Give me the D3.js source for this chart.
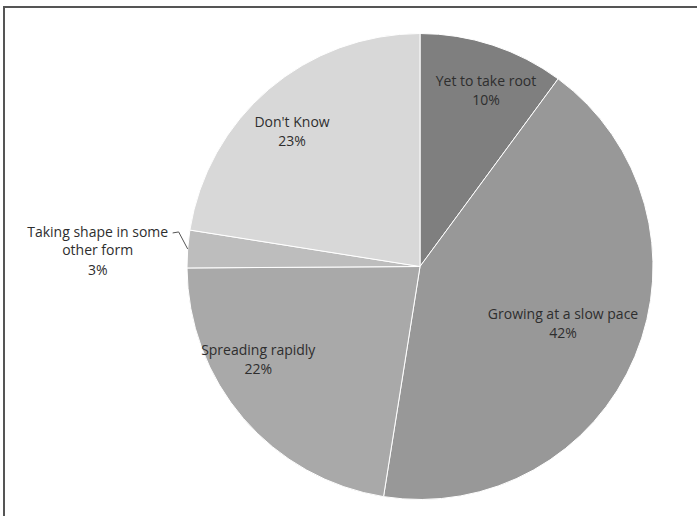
<!DOCTYPE html>
<html lang="en">
  <head>
    <meta charset="UTF-8" />
    <title>Pie</title>
    <style>
      body { margin: 0; background: #fff; }
      .lbl { font-family: "Open Sans", sans-serif; font-size: 14px; fill: #2e2e2e; }
    </style>
  </head>
  <body>
    <script src="https://d3js.org/d3.v7.min.js"></script>
    <script>
      const names = [
        "Yet to take root",
        "Growing at a slow pace",
        "Spreading rapidly",
        "Taking shape in some other form",
        "Don't Know",
      ];
      const values = [10.1, 42.4, 22.4, 2.6, 22.5];
      const colors = ["#7f7f7f", "#989898", "#a9a9a9", "#bdbdbd", "#d8d8d8"];

      const width = 697;
      const height = 516;
      const cx = 420;
      const cy = 266.5;
      const radius = 233;

      const svg = d3
        .select("body")
        .append("svg")
        .attr("width", width)
        .attr("height", height);

      // frame (cropped at the right and bottom)
      svg
        .append("rect")
        .attr("x", 4)
        .attr("y", 7)
        .attr("width", 800)
        .attr("height", 600)
        .attr("fill", "none")
        .attr("stroke", "#555")
        .attr("stroke-width", 2);

      const data = names.map((name, i) => ({ name, value: values[i], color: colors[i] }));

      const pie = d3.pie().sort(null).value((d) => d.value);
      const arcs = pie(data);

      const arc = d3.arc().innerRadius(0).outerRadius(radius);

      const g = svg.append("g").attr("transform", `translate(${cx}, ${cy})`);

      g.selectAll("path")
        .data(arcs)
        .join("path")
        .attr("d", arc)
        .attr("fill", (d) => d.data.color)
        .attr("stroke", "#fff")
        .attr("stroke-width", 1);

      // label radius / angle tweaks, roughly where Excel put them
      const labelPos = {
        "Yet to take root": { r: 0.81, da: 0.04 },
        "Growing at a slow pace": { r: 0.66, da: -0.02 },
        "Spreading rapidly": { r: 0.8, da: 0.19 },
        "Don't Know": { r: 0.8, da: -0.05 },
      };

      const pct = (d) => Math.round(d.data.value) + "%";

      arcs.forEach((d) => {
        const mid = (d.startAngle + d.endAngle) / 2;
        const cfg = labelPos[d.data.name];
        if (cfg) {
          const a = mid + cfg.da;
          const x = Math.sin(a) * radius * cfg.r;
          const y = -Math.cos(a) * radius * cfg.r;
          const t = g
            .append("text")
            .attr("class", "lbl")
            .attr("text-anchor", "middle")
            .attr("x", x)
            .attr("y", y - 4);
          t.append("tspan").attr("x", x).text(d.data.name);
          t.append("tspan").attr("x", x).attr("dy", 19).text(pct(d));
        } else {
          // outside label with leader line
          const px = Math.sin(mid) * radius;
          const py = -Math.cos(mid) * radius;
          const elbow = [px - 9, py - 17];
          const start = [elbow[0] - 6, elbow[1] + 1];
          g.append("path")
            .attr("d", d3.line()([[px, py], elbow, start]))
            .attr("fill", "none")
            .attr("stroke", "#555")
            .attr("stroke-width", 1);
          const x = start[0] - 75;
          const t = g
            .append("text")
            .attr("class", "lbl")
            .attr("text-anchor", "middle")
            .attr("y", start[1] + 4);
          t.append("tspan").attr("x", x).text("Taking shape in some");
          t.append("tspan").attr("x", x).attr("dy", 18).text("other form");
          t.append("tspan").attr("x", x).attr("dy", 20).text(pct(d));
        }
      });
    </script>
  </body>
</html>
